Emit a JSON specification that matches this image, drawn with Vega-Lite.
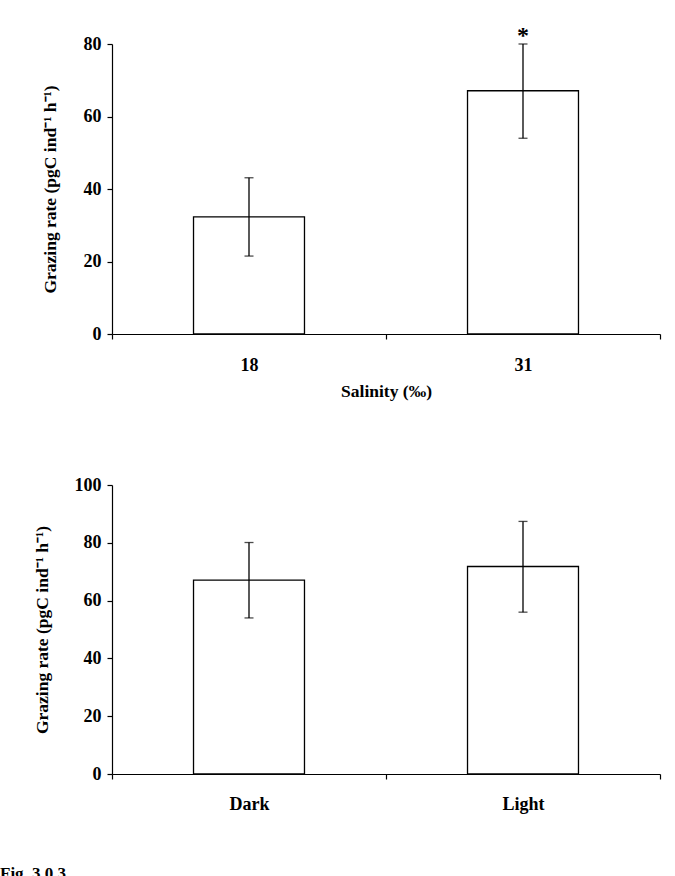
{
  "$schema": "https://vega.github.io/schema/vega-lite/v6.json",
  "padding": {"left": 0, "top": 24, "right": 10, "bottom": 0},
  "spacing": 76,
  "title": {"text": "Fig. 3   0.3", "orient": "bottom", "anchor": "start", "offset": 53, "dx": -33, "font": "Liberation Serif", "fontSize": 17, "fontWeight": "bold", "color": "black"},
  "config": {
    "view": {"stroke": null},
    "font": "Liberation Serif",
    "axis": {
      "domainColor": "black", "tickColor": "black", "domainWidth": 1.2, "tickWidth": 1.2,
      "tickSize": 5, "grid": false,
      "labelFont": "Liberation Serif", "labelFontWeight": "bold", "labelFontSize": 18, "labelColor": "black",
      "titleFont": "Liberation Serif", "titleFontWeight": "bold", "titleFontSize": 17.5, "titleColor": "black"
    }
  },
  "vconcat": [
    {
      "width": 548, "height": 290,
      "data": {"values": [
        {"salinity": "18", "rate": 32.3, "lo": 21.5, "hi": 43.1, "sig": ""},
        {"salinity": "31", "rate": 67.1, "lo": 54.0, "hi": 80.0, "sig": "*"}
      ]},
      "encoding": {
        "x": {"field": "salinity", "type": "nominal", "sort": null,
              "scale": {"paddingInner": 0, "paddingOuter": 0},
              "axis": {"title": "Salinity (‰)", "labelAngle": 0, "tickBand": "extent", "labelPadding": 17, "titlePadding": 8}}
      },
      "layer": [
        {"mark": {"type": "bar", "fill": "white", "stroke": "black", "strokeWidth": 1.3, "width": {"band": 0.405}},
         "encoding": {"y": {"field": "rate", "type": "quantitative", "scale": {"domain": [0, 80], "nice": false},
                            "axis": {"values": [0, 20, 40, 60, 80], "title": "Grazing rate (pgC ind⁻¹ h⁻¹)", "titlePadding": 24, "labelPadding": 6}}}},
        {"mark": {"type": "rule", "color": "black", "strokeWidth": 1.3},
         "encoding": {"y": {"field": "lo", "type": "quantitative"}, "y2": {"field": "hi"}}},
        {"mark": {"type": "tick", "color": "black", "thickness": 1.3, "size": 9, "orient": "horizontal"},
         "encoding": {"y": {"field": "lo", "type": "quantitative"}}},
        {"mark": {"type": "tick", "color": "black", "thickness": 1.3, "size": 9, "orient": "horizontal"},
         "encoding": {"y": {"field": "hi", "type": "quantitative"}}},
        {"mark": {"type": "text", "fontSize": 24, "fontWeight": "bold", "baseline": "alphabetic", "dy": -1, "color": "black"},
         "encoding": {"y": {"field": "hi", "type": "quantitative"}, "text": {"field": "sig"}}}
      ]
    },
    {
      "width": 548, "height": 289,
      "data": {"values": [
        {"light": "Dark", "rate": 67.1, "lo": 54.0, "hi": 80.1},
        {"light": "Light", "rate": 71.8, "lo": 56.0, "hi": 87.4}
      ]},
      "encoding": {
        "x": {"field": "light", "type": "nominal", "sort": null,
              "scale": {"paddingInner": 0, "paddingOuter": 0},
              "axis": {"title": null, "labelAngle": 0, "tickBand": "extent", "labelPadding": 16}}
      },
      "layer": [
        {"mark": {"type": "bar", "fill": "white", "stroke": "black", "strokeWidth": 1.3, "width": {"band": 0.405}},
         "encoding": {"y": {"field": "rate", "type": "quantitative", "scale": {"domain": [0, 100], "nice": false},
                            "axis": {"values": [0, 20, 40, 60, 80, 100], "title": "Grazing rate (pgC ind⁻¹ h⁻¹)", "titlePadding": 23, "labelPadding": 6}}}},
        {"mark": {"type": "rule", "color": "black", "strokeWidth": 1.3},
         "encoding": {"y": {"field": "lo", "type": "quantitative"}, "y2": {"field": "hi"}}},
        {"mark": {"type": "tick", "color": "black", "thickness": 1.3, "size": 9, "orient": "horizontal"},
         "encoding": {"y": {"field": "lo", "type": "quantitative"}}},
        {"mark": {"type": "tick", "color": "black", "thickness": 1.3, "size": 9, "orient": "horizontal"},
         "encoding": {"y": {"field": "hi", "type": "quantitative"}}}
      ]
    }
  ]
}
